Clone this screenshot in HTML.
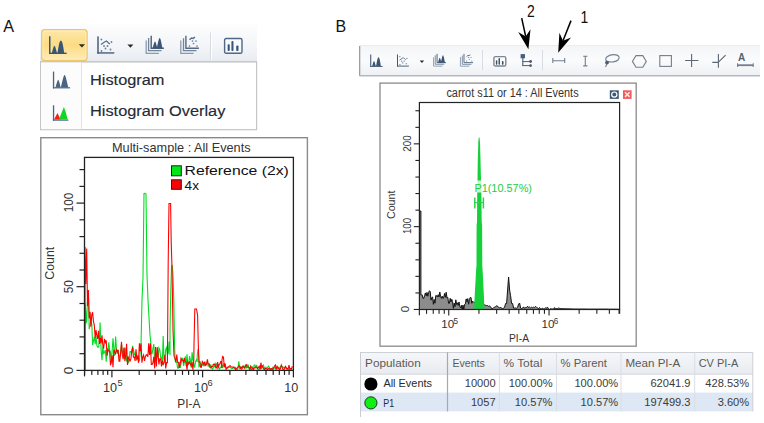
<!DOCTYPE html><html><head><meta charset="utf-8"><style>html,body{margin:0;padding:0;background:#fff;width:764px;height:423px;overflow:hidden}svg{display:block}</style></head><body>
<svg width="764" height="423" viewBox="0 0 764 423" font-family='"Liberation Sans", sans-serif'>
<defs>
<linearGradient id="tbA" x1="0" y1="0" x2="0" y2="1"><stop offset="0" stop-color="#fdfdfe"/><stop offset="0.6" stop-color="#f3f5f8"/><stop offset="1" stop-color="#e7ebf0"/></linearGradient>
<linearGradient id="tbB" x1="0" y1="0" x2="0" y2="1"><stop offset="0" stop-color="#f3f5f8"/><stop offset="0.5" stop-color="#fafbfc"/><stop offset="1" stop-color="#eef0f4"/></linearGradient>
<linearGradient id="hl" x1="0" y1="0" x2="0" y2="1"><stop offset="0" stop-color="#fde7aa"/><stop offset="0.5" stop-color="#fcdb84"/><stop offset="1" stop-color="#feedb8"/></linearGradient>
<linearGradient id="th" x1="0" y1="0" x2="0" y2="1"><stop offset="0" stop-color="#f6f7f9"/><stop offset="1" stop-color="#e8ebf0"/></linearGradient>
<clipPath id="clipA"><rect x="84.5" y="157.4" width="208.9" height="213"/></clipPath>
<clipPath id="clipB"><rect x="419.4" y="102.5" width="200.2" height="206.9"/></clipPath>
</defs>
<text x="3.2" y="31.6" font-size="16.2" fill="#111">A</text>
<text x="335.5" y="31.6" font-size="16" fill="#111">B</text>
<rect x="40" y="24" width="217" height="37.5" fill="url(#tbA)"/>
<rect x="40" y="61" width="217" height="1.2" fill="#c9ccd1"/>
<rect x="41.7" y="29.7" width="45.4" height="30.8" rx="3" fill="url(#hl)" stroke="#eec56c" stroke-width="1.3"/>
<rect x="43" y="31" width="42.8" height="28.2" rx="2" fill="none" stroke="#fff4d0" stroke-width="0.8" opacity="0.8"/>
<rect x="210" y="32.5" width="1" height="27.7" fill="#d6d9de"/><rect x="211" y="32.5" width="1" height="27.7" fill="#fff"/>
<g transform="translate(48.7,36.3) scale(1.0)" fill="#3b5574"><rect x="0.3" y="0" width="1.5" height="17.7"/><rect x="0.3" y="16.4" width="17.7" height="1.3"/><path d="M3.2 16.6 C4.2 13, 5 9.5, 5.7 9.4 C6.5 9.5, 7.3 13, 8.3 16.6Z"/><path d="M8.7 16.6 C9.7 12, 10.5 4.2, 12.2 4.1 C13.9 4.2, 14.7 12, 15.6 16.6Z"/></g>
<path d="M78.8 44.3 h6.2 l-3.1 3.3Z" fill="#2b2b2b"/>
<g transform="translate(97.3,36.4) scale(1.0)" fill="#3b5574"><rect x="0" y="0" width="1.4" height="17.2"/><rect x="0" y="15.9" width="17" height="1.3"/><g fill="#6d7f95"><circle cx="4.1" cy="3.1" r="0.9"/><circle cx="14.2" cy="5.6" r="0.9"/><circle cx="6.7" cy="9.6" r="0.9"/><circle cx="10.2" cy="9.6" r="0.9"/><circle cx="8.2" cy="12.1" r="0.9"/><circle cx="13.2" cy="13.1" r="0.9"/><circle cx="4.2" cy="14.6" r="0.9"/></g><path d="M3.7 8.1 L7.2 5.6 L9.2 4.6 L11.2 6.6 L12.7 7.6" stroke="#56708e" stroke-width="1.3" fill="none"/></g>
<path d="M127.4 44.4 h6.0 l-3.0 3.3Z" fill="#2b2b2b"/>
<g transform="translate(145.7,35.4) scale(1.0)"><path d="M0.5 5.2 V17.9 H13.2" stroke="#8a9bb0" stroke-width="1.3" fill="none"/><path d="M2.9 2.5 V15.2 H15.8" stroke="#71849b" stroke-width="1.3" fill="none"/><path d="M5.5 0.4 V12.9 H18.2" stroke="#4a5f78" stroke-width="1.4" fill="none"/><path d="M6.8 12.9 C7.8 10, 8.6 6.2, 9.3 6.1 C10 6.2, 10.8 10, 11.4 11.4 C12.2 8, 13 2.6, 14 2.5 C15 2.6, 15.8 8, 16.8 12.9Z" fill="#3b5574"/></g>
<g transform="translate(180.2,35.4) scale(1.0)"><path d="M0.6 5 V18 H13.4" stroke="#8a9bb0" stroke-width="1.3" fill="none"/><path d="M3.3 2.8 V15.3 H16.3" stroke="#71849b" stroke-width="1.3" fill="none"/><path d="M5.7 0.4 V12.9 H18.7" stroke="#56697f" stroke-width="1.4" fill="none"/><g fill="#6d7f95"><circle cx="12.3" cy="5.6" r="0.85"/><circle cx="15.8" cy="5.6" r="0.85"/><circle cx="13.3" cy="8.1" r="0.85"/><circle cx="9.3" cy="10.6" r="0.85"/><circle cx="16.8" cy="10.6" r="0.85"/></g><path d="M9.3 4.4 L11.3 2.6 L13 3 L14.8 1.6" stroke="#56708e" stroke-width="1.4" fill="none"/></g>
<g transform="translate(223.9,37.8)"><rect x="0.7" y="0.7" width="17.400000000000002" height="14.799999999999999" rx="1.6" fill="#fff" fill-opacity="0.4" stroke="#4f6886" stroke-width="1.4"/><g fill="#3b5574"><rect x="3.7600000000000002" y="6.399" width="2.068" height="6.803999999999999" rx="0.8272"/><rect x="7.5200000000000005" y="3.3047999999999997" width="2.068" height="9.882" rx="0.8272"/><rect x="12.314000000000002" y="7.776" width="2.2748000000000004" height="5.4270000000000005" rx="0.8272"/></g></g>
<rect x="40.6" y="62" width="216" height="67.7" fill="#fff" stroke="#c6c6c8" stroke-width="1.2"/>
<rect x="41.2" y="62.6" width="40" height="66.5" fill="#fcfcfc"/>
<rect x="81" y="62.6" width="1" height="66.5" fill="#e3e4e6"/>
<g transform="translate(52.9,71.6)" fill="#4a6484"><rect x="0" y="0" width="1.3" height="16.8"/><rect x="0" y="15.6" width="17.2" height="1.2"/><path d="M2.6 15.8 C3.8 12, 4.6 8.3, 5.3 8.2 C6 8.3, 6.8 12, 7.8 15.8Z"/><path d="M8.0 15.8 C9.2 11, 10.6 3.5, 11.7 3.4 C12.8 3.5, 14.2 11, 15.4 15.8Z"/></g>
<g transform="translate(52.9,105.3)"><rect x="0" y="0" width="1.3" height="15.4" fill="#4a6484"/><rect x="0" y="14.2" width="15.5" height="1.2" fill="#4a6484"/><path d="M1.2 14.2 L4.6 7.8 L7.6 14.2Z" fill="#ff1a1a"/><path d="M6 14.2 L9.3 6 L11 1.8 L12.6 6 L14.8 14.2Z" fill="#12d624"/></g>
<text x="90" y="84.9" font-size="15.2" fill="#262b36" stroke="#262b36" stroke-width="0.15" textLength="74.5" lengthAdjust="spacingAndGlyphs">Histogram</text>
<text x="90" y="116.4" font-size="15.2" fill="#262b36" stroke="#262b36" stroke-width="0.15" textLength="135.3" lengthAdjust="spacingAndGlyphs">Histogram Overlay</text>
<rect x="40.8" y="137.7" width="266.6" height="277" fill="#fff" stroke="#8a8a8a" stroke-width="1.4"/>
<text x="112" y="151.8" font-size="12.2" fill="#333" textLength="138.6" lengthAdjust="spacingAndGlyphs">Multi-sample : All Events</text>
<g clip-path="url(#clipA)" fill="none" stroke-width="1.1" stroke-linejoin="miter">
<polyline points="85.0,370.4 85.0,303.0 85.8,312.0 85.8,323.6 86.7,321.1 87.5,299.3 88.4,293.0 89.2,329.2 90.1,324.9 90.9,320.6 91.8,324.1 92.6,345.1 93.5,340.9 94.3,336.8 95.2,344.3 96.0,336.3 96.9,345.6 97.7,347.2 98.6,347.0 99.4,340.0 100.1,322.5 100.8,342.0 101.1,350.5 102.0,360.1 102.8,346.5 103.7,354.1 104.5,352.1 105.4,350.1 106.2,361.7 107.1,348.1 107.9,352.0 108.8,342.3 109.6,350.0 110.5,351.9 111.3,363.5 112.2,350.0 113.0,338.4 113.9,350.0 114.7,355.8 115.6,336.5 116.4,348.0 117.3,353.8 118.1,350.0 119.0,355.8 119.8,357.7 120.7,353.8 121.5,344.1 122.4,353.8 123.2,351.8 124.1,347.9 124.9,359.5 125.8,347.9 126.6,361.4 127.5,357.5 128.3,363.2 129.2,359.4 130.0,351.6 130.9,351.6 131.7,353.5 132.6,345.8 133.4,349.7 134.3,353.5 135.1,355.5 136.0,357.4 136.8,359.3 137.7,355.5 138.5,359.3 139.4,361.3 140.2,351.6 141.0,345.0 142.0,300.0 143.0,278.0 144.0,193.5 145.0,193.3 146.0,194.0 147.0,275.0 148.0,300.0 149.0,318.0 150.0,335.0 151.0,345.0 151.3,353.8 152.1,353.8 153.0,348.0 153.8,344.1 154.7,363.4 155.5,357.6 156.4,361.4 157.2,353.6 158.1,357.5 158.9,347.8 159.8,349.7 160.6,357.4 161.5,357.3 162.3,365.0 163.2,336.0 164.0,359.2 164.9,361.1 165.7,349.4 166.6,347.5 167.4,355.1 168.3,353.2 169.1,341.5 170.0,355.0 170.0,330.0 170.8,290.0 171.5,268.0 172.3,265.0 173.0,275.0 173.8,300.0 174.5,342.0 175.1,360.4 175.9,362.3 176.8,362.3 177.6,368.1 178.5,368.0 179.3,362.2 180.2,368.0 181.0,364.1 181.9,358.3 182.7,358.3 183.6,366.0 184.4,362.1 185.3,356.3 186.1,365.9 187.0,354.3 187.8,364.0 188.7,363.9 189.5,356.2 190.4,360.0 191.2,367.7 192.1,352.3 192.9,360.0 193.8,363.8 194.6,367.7 195.5,361.8 196.3,359.8 197.2,361.7 197.2,356.0 198.0,349.0 198.8,357.0 198.9,367.4 199.7,365.4 200.6,362.9 201.4,366.4 202.3,364.1 203.1,365.3 204.0,361.9 204.8,365.4 205.7,365.4 206.5,364.3 207.4,362.0 208.2,366.6 209.1,363.2 209.9,367.8 210.8,364.4 211.6,367.9 212.5,369.0 213.3,367.9 214.2,364.5 215.0,366.8 215.9,363.3 216.7,364.5 217.6,368.0 218.4,365.7 219.3,369.2 220.1,368.1 221.0,367.0 221.8,364.7 222.7,368.2 223.5,363.5 224.4,367.0 225.2,367.1 226.1,368.2 226.9,368.3 227.8,368.3 228.6,367.1 229.5,367.2 230.3,367.2 231.2,368.3 232.0,368.4 232.9,368.4 233.7,367.2 234.6,367.2 235.4,367.2 236.3,369.5 237.1,369.5 238.0,368.4 238.8,361.4 239.7,368.4 240.5,367.2 241.4,369.6 242.2,367.2 243.1,366.1 243.9,367.3 244.8,366.1 245.6,364.9 246.5,368.4 247.3,364.9 248.2,365.0 249.0,368.4 249.9,369.6 250.7,368.4 251.6,369.6 252.4,367.3 253.3,369.6 254.1,365.0 255.0,365.0 255.8,368.5 256.7,365.0 257.5,368.5 258.4,369.6 259.2,368.5 260.1,367.3 260.9,368.5 261.8,368.5 262.6,366.2 263.5,365.0 264.3,368.5 265.2,367.4 266.0,369.7 266.9,367.4 267.7,367.4 268.6,366.2 269.4,367.4 270.3,369.7 271.1,369.7 272.0,368.5 272.8,367.4 273.7,368.6 274.5,367.4 275.4,368.6 276.2,367.4 277.1,368.6 277.9,368.6 278.8,367.4 279.6,369.7 280.5,366.3 281.3,366.3 282.2,366.3 283.0,367.4 283.9,367.4 284.7,368.6 285.6,367.5 286.4,367.5 287.3,369.8 288.1,369.8 289.0,368.6 289.8,369.8 290.7,368.6 291.5,369.8 292.4,368.6" stroke="#00dd22"/>
<polyline points="85.0,370.4 85.0,247.0 85.8,284.0 85.8,283.7 86.7,248.5 87.5,306.1 88.4,290.1 89.2,318.3 90.1,311.8 90.9,326.7 91.8,314.6 92.6,312.3 93.5,321.6 94.3,325.0 95.2,338.2 96.0,330.1 96.9,335.5 97.7,339.0 98.6,330.9 99.4,344.0 100.3,337.9 101.1,343.4 102.0,335.4 102.8,344.8 103.7,348.5 104.5,338.8 105.4,342.5 106.2,340.4 107.1,355.8 107.9,350.0 108.8,349.9 109.6,351.8 110.5,365.3 111.3,361.4 112.2,355.6 113.0,367.2 113.9,349.8 114.7,351.7 115.6,353.6 116.4,349.7 117.3,351.6 118.1,349.7 119.0,361.3 119.8,361.3 120.7,351.6 121.5,341.9 122.4,355.4 123.2,359.2 124.1,347.6 124.9,361.1 125.8,355.3 126.6,343.7 127.5,364.9 128.3,357.2 129.2,359.1 130.0,361.0 130.9,359.0 131.7,351.3 132.6,347.4 133.4,357.1 134.3,357.0 135.1,360.9 136.0,349.3 136.8,358.9 137.7,357.0 138.5,362.8 139.4,343.4 140.2,351.2 141.1,343.4 141.9,362.7 142.8,356.9 143.6,355.0 144.5,360.8 145.3,356.9 146.2,354.9 147.0,354.9 147.9,356.8 148.7,343.3 149.6,354.9 150.4,343.3 151.3,364.5 152.1,364.5 153.0,362.6 153.8,356.8 154.7,368.4 155.5,347.1 156.4,366.5 157.2,347.1 158.1,354.9 158.9,364.5 159.8,358.7 160.6,358.7 161.5,366.5 162.3,360.7 163.2,364.5 164.0,362.6 164.9,354.9 165.7,368.4 166.6,362.6 167.4,362.6 167.5,352.0 168.2,262.0 169.0,203.5 170.6,203.5 171.2,241.0 172.0,268.0 173.0,330.0 174.0,356.0 174.2,356.5 175.1,358.4 175.9,362.3 176.8,354.5 177.6,362.2 178.5,362.2 179.3,368.0 180.2,364.1 181.0,358.3 181.9,360.2 182.7,360.1 183.6,362.0 184.4,358.2 185.3,362.0 186.1,362.0 187.0,369.8 187.8,362.0 188.7,363.9 189.5,362.0 190.4,363.9 191.2,365.9 192.1,362.0 192.9,369.7 193.8,360.0 194.0,345.0 194.8,309.0 196.5,309.0 197.6,315.0 198.3,345.0 199.0,362.0 199.7,361.7 200.6,367.3 201.4,367.3 202.3,361.6 203.1,362.8 204.0,365.1 204.8,361.7 205.7,365.2 206.5,364.0 207.4,359.4 208.2,364.1 209.1,364.2 209.9,366.5 210.8,367.7 211.6,366.6 212.5,366.6 213.3,364.3 214.2,364.4 215.0,364.4 215.9,367.9 216.7,367.9 217.6,362.1 218.4,366.8 219.3,364.5 220.1,363.3 221.0,361.0 221.8,368.0 222.0,360.0 222.6,356.4 223.4,357.0 224.0,363.0 224.4,366.9 225.2,363.5 226.1,369.3 226.9,368.1 227.8,367.0 228.6,367.0 229.5,365.9 230.3,365.9 231.2,367.0 232.0,367.0 232.9,367.1 233.7,367.1 234.6,368.2 235.4,369.4 236.3,368.3 237.1,368.3 238.0,367.1 238.8,366.0 239.7,366.0 240.5,368.3 241.4,367.1 242.2,368.3 243.1,366.0 243.9,367.2 244.8,368.3 245.6,366.0 246.5,364.9 247.3,367.2 248.2,367.2 249.0,367.2 249.9,369.6 250.7,366.1 251.6,367.3 252.4,368.4 253.3,369.6 254.1,368.4 255.0,367.3 255.8,367.3 256.7,367.3 257.5,368.5 258.4,367.3 259.2,366.2 260.1,369.7 260.9,362.7 261.8,367.3 262.6,366.2 263.5,368.5 264.3,369.7 265.2,368.5 266.0,368.5 266.9,368.5 267.7,369.7 268.6,368.5 269.4,368.5 270.3,369.7 271.1,368.5 272.0,368.6 272.8,369.7 273.7,367.4 274.5,366.2 275.4,365.1 276.2,369.7 277.1,366.3 277.9,367.4 278.8,368.6 279.6,369.7 280.5,368.6 281.3,365.1 282.2,367.4 283.0,369.8 283.9,369.8 284.7,367.5 285.6,366.3 286.4,368.6 287.3,368.6 288.1,368.6 289.0,365.2 289.8,368.6 290.7,368.6 291.5,368.6 292.4,366.3" stroke="#ff0000"/>
</g>
<rect x="84.5" y="157.4" width="208.89999999999998" height="212.99999999999997" fill="none" stroke="#222" stroke-width="1.3"/>
<g fill="#222"><rect x="76.5" y="369.8" width="8" height="1.2"/><rect x="79.5" y="353.1" width="5" height="1.2"/><rect x="79.5" y="336.3" width="5" height="1.2"/><rect x="79.5" y="319.6" width="5" height="1.2"/><rect x="79.5" y="302.9" width="5" height="1.2"/><rect x="76.5" y="286.1" width="8" height="1.2"/><rect x="79.5" y="269.4" width="5" height="1.2"/><rect x="79.5" y="252.7" width="5" height="1.2"/><rect x="79.5" y="236.0" width="5" height="1.2"/><rect x="79.5" y="219.2" width="5" height="1.2"/><rect x="76.5" y="202.5" width="8" height="1.2"/><rect x="79.5" y="185.8" width="5" height="1.2"/><rect x="79.5" y="169.0" width="5" height="1.2"/><rect x="84.0" y="370.4" width="1.2" height="4.5"/><rect x="91.2" y="370.4" width="1.2" height="4.5"/><rect x="97.3" y="370.4" width="1.2" height="4.5"/><rect x="102.5" y="370.4" width="1.2" height="4.5"/><rect x="107.1" y="370.4" width="1.2" height="4.5"/><rect x="111.3" y="370.4" width="1.2" height="7"/><rect x="138.6" y="370.4" width="1.2" height="4.5"/><rect x="154.6" y="370.4" width="1.2" height="4.5"/><rect x="165.9" y="370.4" width="1.2" height="4.5"/><rect x="174.7" y="370.4" width="1.2" height="4.5"/><rect x="181.9" y="370.4" width="1.2" height="4.5"/><rect x="188.0" y="370.4" width="1.2" height="4.5"/><rect x="193.2" y="370.4" width="1.2" height="4.5"/><rect x="197.8" y="370.4" width="1.2" height="4.5"/><rect x="202.0" y="370.4" width="1.2" height="7"/><rect x="229.3" y="370.4" width="1.2" height="4.5"/><rect x="245.3" y="370.4" width="1.2" height="4.5"/><rect x="256.6" y="370.4" width="1.2" height="4.5"/><rect x="265.4" y="370.4" width="1.2" height="4.5"/><rect x="272.6" y="370.4" width="1.2" height="4.5"/><rect x="278.7" y="370.4" width="1.2" height="4.5"/><rect x="283.9" y="370.4" width="1.2" height="4.5"/><rect x="288.5" y="370.4" width="1.2" height="4.5"/><rect x="292.8" y="370.4" width="1.2" height="7"/><rect x="83.9" y="370.4" width="1.2" height="6"/></g>
<text transform="translate(72.9,202.4) rotate(-90)" text-anchor="middle" font-size="13.4" fill="#333" textLength="19.6" lengthAdjust="spacingAndGlyphs">100</text>
<text transform="translate(72.9,286.7) rotate(-90)" text-anchor="middle" font-size="13.4" fill="#333" textLength="13.2" lengthAdjust="spacingAndGlyphs">50</text>
<text transform="translate(72.9,370.6) rotate(-90)" text-anchor="middle" font-size="13.4" fill="#333">0</text>
<text transform="translate(54.4,263.3) rotate(-90)" text-anchor="middle" font-size="12.0" fill="#333" textLength="33" lengthAdjust="spacingAndGlyphs">Count</text>
<text x="103.0" y="392.2" font-size="12.6" fill="#333">10</text><text x="117.4" y="386.4" font-size="9.2" fill="#333">5</text>
<text x="193.9" y="392.2" font-size="12.6" fill="#333">10</text><text x="207.6" y="386.4" font-size="9.2" fill="#333">6</text>
<text x="284.3" y="392.2" font-size="12.6" fill="#333">10</text>
<text x="177.3" y="407.9" font-size="12.8" fill="#333" textLength="23" lengthAdjust="spacingAndGlyphs">PI-A</text>
<rect x="171.5" y="165.8" width="9.8" height="10" fill="#00e81a" stroke="#222" stroke-width="1"/>
<rect x="171.5" y="179.8" width="9.8" height="9.5" fill="#ff0000" stroke="#222" stroke-width="1"/>
<text x="184.6" y="175.3" font-size="13.6" fill="#111" textLength="104.2" lengthAdjust="spacingAndGlyphs">Reference (2x)</text>
<text x="184.6" y="189.6" font-size="13.6" fill="#111">4x</text>
<rect x="359.5" y="45.3" width="400.5" height="30.2" fill="url(#tbB)"/>
<rect x="359.5" y="45.3" width="400.5" height="0.8" fill="#e6e9ed"/>
<rect x="359" y="46" width="1.3" height="30" fill="#9a9da2"/>
<rect x="359.5" y="75" width="400.5" height="1.5" fill="#b5b9bf"/>
<rect x="482" y="50" width="1" height="20.4" fill="#d9dce0"/>
<rect x="542" y="50" width="1" height="20.4" fill="#d9dce0"/>
<g transform="translate(370,54.5) scale(0.7)" fill="#3b5574"><rect x="0.3" y="0" width="1.5" height="17.7"/><rect x="0.3" y="16.4" width="17.7" height="1.3"/><path d="M3.2 16.6 C4.2 13, 5 9.5, 5.7 9.4 C6.5 9.5, 7.3 13, 8.3 16.6Z"/><path d="M8.7 16.6 C9.7 12, 10.5 4.2, 12.2 4.1 C13.9 4.2, 14.7 12, 15.6 16.6Z"/></g>
<g transform="translate(397,54.5) scale(0.7)" fill="#3b5574"><rect x="0" y="0" width="1.4" height="17.2"/><rect x="0" y="15.9" width="17" height="1.3"/><g fill="#6d7f95"><circle cx="4.1" cy="3.1" r="0.9"/><circle cx="14.2" cy="5.6" r="0.9"/><circle cx="6.7" cy="9.6" r="0.9"/><circle cx="10.2" cy="9.6" r="0.9"/><circle cx="8.2" cy="12.1" r="0.9"/><circle cx="13.2" cy="13.1" r="0.9"/><circle cx="4.2" cy="14.6" r="0.9"/></g><path d="M3.7 8.1 L7.2 5.6 L9.2 4.6 L11.2 6.6 L12.7 7.6" stroke="#56708e" stroke-width="1.3" fill="none"/></g>
<path d="M419.7 60.4 h4.4 l-2.2 2.7Z" fill="#2b2b2b"/>
<g transform="translate(433.2,53.6) scale(0.7)"><path d="M0.5 5.2 V17.9 H13.2" stroke="#8a9bb0" stroke-width="1.3" fill="none"/><path d="M2.9 2.5 V15.2 H15.8" stroke="#71849b" stroke-width="1.3" fill="none"/><path d="M5.5 0.4 V12.9 H18.2" stroke="#4a5f78" stroke-width="1.4" fill="none"/><path d="M6.8 12.9 C7.8 10, 8.6 6.2, 9.3 6.1 C10 6.2, 10.8 10, 11.4 11.4 C12.2 8, 13 2.6, 14 2.5 C15 2.6, 15.8 8, 16.8 12.9Z" fill="#3b5574"/></g>
<g transform="translate(460,53.6) scale(0.7)"><path d="M0.6 5 V18 H13.4" stroke="#8a9bb0" stroke-width="1.3" fill="none"/><path d="M3.3 2.8 V15.3 H16.3" stroke="#71849b" stroke-width="1.3" fill="none"/><path d="M5.7 0.4 V12.9 H18.7" stroke="#56697f" stroke-width="1.4" fill="none"/><g fill="#6d7f95"><circle cx="12.3" cy="5.6" r="0.85"/><circle cx="15.8" cy="5.6" r="0.85"/><circle cx="13.3" cy="8.1" r="0.85"/><circle cx="9.3" cy="10.6" r="0.85"/><circle cx="16.8" cy="10.6" r="0.85"/></g><path d="M9.3 4.4 L11.3 2.6 L13 3 L14.8 1.6" stroke="#56708e" stroke-width="1.4" fill="none"/></g>
<g transform="translate(493.2,55.9)"><rect x="0.7" y="0.7" width="11.9" height="9.4" rx="1.6" fill="#fff" fill-opacity="0.4" stroke="#7a8797" stroke-width="1.4"/><g fill="#3f4f63"><rect x="2.66" y="4.266000000000001" width="1.463" height="4.5360000000000005" rx="0.5852"/><rect x="5.32" y="2.2032" width="1.463" height="6.588" rx="0.5852"/><rect x="8.711500000000001" y="5.184" width="1.6093000000000002" height="3.6180000000000003" rx="0.5852"/></g></g>
<g fill="#5d6e83"><rect x="520.6" y="54.1" width="4.4" height="4.2" fill="#45607f"/><rect x="522.2" y="58" width="1.2" height="7.8"/><rect x="522.2" y="61" width="8" height="1.1"/><rect x="522.2" y="65" width="8" height="1.1"/><circle cx="530.6" cy="61.5" r="1.4" fill="#4a5a6c"/><circle cx="530.6" cy="65.6" r="1.4" fill="#4a5a6c"/></g>
<g stroke="#737f8e" stroke-width="1.1" fill="none">
<path d="M552.8 58.1 V63.1 M552.8 60.7 H564.7 M564.7 58.1 V63.1"/>
<path d="M583.2 56.3 H587.4 M585.3 56.3 V65.9 M583.2 65.9 H587.4"/>
<path d="M607 61.5 C603 58 609 54.5 614 54.6 C619 54.7 620.5 57.5 618 60 C616 62 611 62.5 608 61.5 C606.5 63 607 65 605.5 67"/>
<path d="M636 55.6 H642.8 L646.3 61.4 L642.8 67.2 H636 L632.4 61.4Z"/>
<rect x="659.8" y="55.6" width="11.6" height="10.8"/>
<path d="M691.6 54.1 V67 M685.1 60.5 H698.4" stroke="#5d6775"/>
<path d="M718.4 54.1 V67.8 M712.3 62.4 H718.4 M718.4 62.2 L725.6 55.1" stroke="#5d6775"/>
<path d="M737.6 63.2 V67.1 M753.2 63.2 V67.1"/><path d="M737.6 65.2 H753.2" stroke-width="1.8"/>
</g>
<text x="737.9" y="60.6" font-size="10" font-weight="bold" fill="#566272">A</text>
<g transform="translate(607.0,62.6)" fill="#4e5d6e"><circle r="1.9"/></g>
<line x1="521.7" y1="18.2" x2="525.7" y2="36.5" stroke="#000" stroke-width="1.5"/><path d="M528.4,49.2 L518.2,32.0 L525.7,36.5 L530.5,29.3Z" fill="#000"/>
<line x1="571" y1="20.6" x2="563.0" y2="40.7" stroke="#000" stroke-width="1.5"/><path d="M558.2,52.8 L559.4,32.8 L563.0,40.7 L571.1,37.5Z" fill="#000"/>
<text transform="translate(527,16.8) scale(0.92,1.05)" font-size="15.2" fill="#111">2</text>
<text transform="translate(580.6,23.1) scale(0.92,1.05)" font-size="15.2" fill="#111">1</text>
<rect x="380" y="83.1" width="256.2" height="263.1" fill="#fff" stroke="#8a8a8a" stroke-width="1.3"/>
<text x="446.4" y="97.4" font-size="12" fill="#333" textLength="132.2" lengthAdjust="spacingAndGlyphs">carrot s11 or 14 : All Events</text>
<rect x="609.8" y="90.3" width="9" height="8.6" fill="#3e5a76"/><circle cx="614.3" cy="94.6" r="2.6" fill="none" stroke="#fff" stroke-width="1.2"/>
<rect x="623" y="90.3" width="8.6" height="8.6" fill="#f05c5c"/><path d="M625 92.3 L629.6 96.9 M629.6 92.3 L625 96.9" stroke="#ffe8e0" stroke-width="1.5"/>
<g clip-path="url(#clipB)">
<polygon points="419.9,309.5 419.9,211.0 420.9,211.0 420.9,295.0 421.4,294.9 422.2,294.9 423.0,298.6 423.8,298.1 424.6,295.5 425.4,292.9 426.2,295.8 427.0,292.4 427.8,296.2 428.6,292.7 429.4,290.8 430.2,291.4 431.0,300.1 431.8,297.5 432.6,297.0 433.4,304.3 434.2,299.5 435.0,303.2 435.8,295.5 436.6,295.7 437.4,296.9 438.2,294.7 439.0,297.0 439.8,292.0 440.6,296.5 441.4,298.3 442.2,296.1 443.0,298.5 443.8,297.1 444.6,293.4 445.4,297.3 446.2,292.2 447.0,298.0 447.8,297.4 448.6,303.3 449.4,303.3 450.2,298.3 451.0,301.8 451.8,299.3 452.6,301.7 453.4,308.4 454.2,303.1 455.0,306.6 455.8,299.8 456.6,304.5 457.4,302.8 458.2,305.4 459.0,302.0 459.8,306.3 460.6,308.0 461.4,305.3 462.2,309.5 463.0,305.0 463.8,309.4 464.6,304.4 465.4,303.9 466.2,298.9 467.0,301.8 467.8,298.6 468.6,304.2 469.4,299.7 470.2,297.5 471.0,297.5 471.8,303.3 472.6,301.2 473.6,302.2 474.6,302.4 475.6,302.7 476.6,302.9 477.6,303.2 478.6,303.4 479.6,303.7 480.6,303.9 481.6,304.2 482.6,304.4 483.6,304.7 484.6,304.9 485.6,305.3 486.6,305.5 487.6,305.6 488.6,306.3 489.6,306.0 490.6,306.8 491.6,308.6 492.6,308.6 493.6,307.6 494.6,307.2 495.6,306.6 496.6,305.8 497.6,306.1 498.6,307.5 499.6,308.0 500.6,307.0 501.6,308.4 502.6,308.6 503.6,308.3 504.6,307.1 505.6,303.5 506.6,303.5 507.6,290.0 508.6,277.0 509.6,290.0 510.6,295.8 511.6,303.5 512.6,303.5 513.6,308.0 514.6,308.1 515.6,308.0 516.6,308.2 517.6,307.3 518.6,304.1 519.6,303.0 520.6,308.0 521.6,308.5 522.6,308.1 523.6,306.9 524.6,308.3 525.6,307.5 526.6,307.5 527.6,306.2 528.6,307.6 529.6,307.0 530.6,307.9 531.6,307.2 532.6,307.8 533.6,307.2 534.6,307.4 535.6,306.4 536.6,307.4 537.6,308.0 538.6,308.5 539.6,307.6 540.6,308.9 541.6,308.8 542.6,308.3 543.6,308.9 544.6,308.7 545.6,307.8 546.6,308.0 547.6,307.3 548.6,309.1 549.6,309.5 550.6,308.5 551.6,309.0 552.6,309.0 553.6,309.0 554.6,307.6 555.6,309.0 556.6,308.5 557.6,308.6 558.6,308.0 559.6,308.4 560.6,308.5 561.6,308.6 562.6,308.6 563.6,308.6 564.6,308.7 565.6,308.7 566.6,308.7 567.6,308.8 568.6,308.8 569.6,308.8 570.6,308.9 571.6,308.9 572.6,308.9 573.6,309.0 574.6,309.0 575.6,309.0 576.6,309.0 577.6,309.0 578.6,309.0 579.6,309.0 580.6,309.0 581.6,309.0 582.6,309.0 583.6,309.0 584.6,309.0 585.6,309.0 586.6,309.1 587.6,309.1 588.6,309.1 589.6,309.1 590.6,309.1 591.6,309.1 592.6,309.1 593.6,309.1 594.6,309.1 595.6,309.1 596.6,309.1 597.6,309.1 598.6,309.1 599.6,309.1 600.6,309.1 601.6,309.1 602.6,309.1 603.6,309.1 604.6,309.1 605.6,309.1 606.6,309.1 607.6,309.1 608.6,309.2 609.6,309.2 610.6,309.2 611.6,309.2 612.6,309.2 613.6,309.2 614.6,309.2 615.6,309.2 616.6,309.2 617.6,309.2 618.6,309.2 619.6,309.5" fill="#8c8c8c" stroke="none"/>
<polyline points="419.9,211.0 420.9,211.0 420.9,295.0 421.4,294.9 422.2,294.9 423.0,298.6 423.8,298.1 424.6,295.5 425.4,292.9 426.2,295.8 427.0,292.4 427.8,296.2 428.6,292.7 429.4,290.8 430.2,291.4 431.0,300.1 431.8,297.5 432.6,297.0 433.4,304.3 434.2,299.5 435.0,303.2 435.8,295.5 436.6,295.7 437.4,296.9 438.2,294.7 439.0,297.0 439.8,292.0 440.6,296.5 441.4,298.3 442.2,296.1 443.0,298.5 443.8,297.1 444.6,293.4 445.4,297.3 446.2,292.2 447.0,298.0 447.8,297.4 448.6,303.3 449.4,303.3 450.2,298.3 451.0,301.8 451.8,299.3 452.6,301.7 453.4,308.4 454.2,303.1 455.0,306.6 455.8,299.8 456.6,304.5 457.4,302.8 458.2,305.4 459.0,302.0 459.8,306.3 460.6,308.0 461.4,305.3 462.2,309.5 463.0,305.0 463.8,309.4 464.6,304.4 465.4,303.9 466.2,298.9 467.0,301.8 467.8,298.6 468.6,304.2 469.4,299.7 470.2,297.5 471.0,297.5 471.8,303.3 472.6,301.2 473.6,302.2 474.6,302.4 475.6,302.7 476.6,302.9 477.6,303.2 478.6,303.4 479.6,303.7 480.6,303.9 481.6,304.2 482.6,304.4 483.6,304.7 484.6,304.9 485.6,305.3 486.6,305.5 487.6,305.6 488.6,306.3 489.6,306.0 490.6,306.8 491.6,308.6 492.6,308.6 493.6,307.6 494.6,307.2 495.6,306.6 496.6,305.8 497.6,306.1 498.6,307.5 499.6,308.0 500.6,307.0 501.6,308.4 502.6,308.6 503.6,308.3 504.6,307.1 505.6,303.5 506.6,303.5 507.6,290.0 508.6,277.0 509.6,290.0 510.6,295.8 511.6,303.5 512.6,303.5 513.6,308.0 514.6,308.1 515.6,308.0 516.6,308.2 517.6,307.3 518.6,304.1 519.6,303.0 520.6,308.0 521.6,308.5 522.6,308.1 523.6,306.9 524.6,308.3 525.6,307.5 526.6,307.5 527.6,306.2 528.6,307.6 529.6,307.0 530.6,307.9 531.6,307.2 532.6,307.8 533.6,307.2 534.6,307.4 535.6,306.4 536.6,307.4 537.6,308.0 538.6,308.5 539.6,307.6 540.6,308.9 541.6,308.8 542.6,308.3 543.6,308.9 544.6,308.7 545.6,307.8 546.6,308.0 547.6,307.3 548.6,309.1 549.6,309.5 550.6,308.5 551.6,309.0 552.6,309.0 553.6,309.0 554.6,307.6 555.6,309.0 556.6,308.5 557.6,308.6 558.6,308.0 559.6,308.4 560.6,308.5 561.6,308.6 562.6,308.6 563.6,308.6 564.6,308.7 565.6,308.7 566.6,308.7 567.6,308.8 568.6,308.8 569.6,308.8 570.6,308.9 571.6,308.9 572.6,308.9 573.6,309.0 574.6,309.0 575.6,309.0 576.6,309.0 577.6,309.0 578.6,309.0 579.6,309.0 580.6,309.0 581.6,309.0 582.6,309.0 583.6,309.0 584.6,309.0 585.6,309.0 586.6,309.1 587.6,309.1 588.6,309.1 589.6,309.1 590.6,309.1 591.6,309.1 592.6,309.1 593.6,309.1 594.6,309.1 595.6,309.1 596.6,309.1 597.6,309.1 598.6,309.1 599.6,309.1 600.6,309.1 601.6,309.1 602.6,309.1 603.6,309.1 604.6,309.1 605.6,309.1 606.6,309.1 607.6,309.1 608.6,309.2 609.6,309.2 610.6,309.2 611.6,309.2 612.6,309.2 613.6,309.2 614.6,309.2 615.6,309.2 616.6,309.2 617.6,309.2 618.6,309.2" fill="none" stroke="#111" stroke-width="1"/>
<polygon points="474.2,309.4 474.5,300.0 475.0,290.0 475.6,280.0 476.0,271.0 476.5,265.8 476.6,225.0 477.0,222.0 477.2,195.0 477.5,180.0 477.8,160.0 478.3,142.0 478.7,137.5 479.5,137.5 480.0,142.0 480.5,160.0 481.0,180.0 481.4,195.0 481.7,222.0 482.1,225.0 482.3,265.8 482.9,275.0 483.6,290.0 484.1,300.0 484.4,309.4" fill="#16d03a"/>
</g>
<rect x="474.5" y="180.5" width="58" height="12" fill="#fff" fill-opacity="0.75"/>
<text x="474.4" y="191.6" font-size="11.6" fill="#22cc44" textLength="57.6" lengthAdjust="spacingAndGlyphs">P1(10.57%)</text>
<path d="M474.8 197.4 V208.4 M483.4 197.4 V208.4" stroke="#2ed24e" stroke-width="1.5" fill="none"/><path d="M474.8 202.6 H483.4" stroke="#2ed24e" stroke-width="1.1"/>
<rect x="419.4" y="102.5" width="200.20000000000005" height="207.0" fill="none" stroke="#222" stroke-width="1.2"/>
<g fill="#222"><rect x="413.79999999999995" y="308.9" width="5.6" height="1.1"/><rect x="415.4" y="292.4" width="4" height="1.1"/><rect x="415.4" y="275.8" width="4" height="1.1"/><rect x="415.4" y="259.3" width="4" height="1.1"/><rect x="415.4" y="242.7" width="4" height="1.1"/><rect x="413.79999999999995" y="226.1" width="5.6" height="1.1"/><rect x="415.4" y="209.6" width="4" height="1.1"/><rect x="415.4" y="193.0" width="4" height="1.1"/><rect x="415.4" y="176.5" width="4" height="1.1"/><rect x="415.4" y="159.9" width="4" height="1.1"/><rect x="413.79999999999995" y="143.3" width="5.6" height="1.1"/><rect x="415.4" y="126.8" width="4" height="1.1"/><rect x="415.4" y="110.2" width="4" height="1.1"/><rect x="426.0" y="309.5" width="1.1" height="4.3"/><rect x="432.7" y="309.5" width="1.1" height="4.3"/><rect x="438.5" y="309.5" width="1.1" height="4.3"/><rect x="443.7" y="309.5" width="1.1" height="4.3"/><rect x="448.2" y="309.5" width="1.1" height="6"/><rect x="478.4" y="309.5" width="1.1" height="4.3"/><rect x="496.1" y="309.5" width="1.1" height="4.3"/><rect x="508.6" y="309.5" width="1.1" height="4.3"/><rect x="518.3" y="309.5" width="1.1" height="4.3"/><rect x="526.2" y="309.5" width="1.1" height="4.3"/><rect x="532.9" y="309.5" width="1.1" height="4.3"/><rect x="538.7" y="309.5" width="1.1" height="4.3"/><rect x="543.9" y="309.5" width="1.1" height="4.3"/><rect x="548.5" y="309.5" width="1.1" height="6"/><rect x="578.6" y="309.5" width="1.1" height="4.3"/><rect x="596.3" y="309.5" width="1.1" height="4.3"/><rect x="608.8" y="309.5" width="1.1" height="4.3"/><rect x="618.5" y="309.5" width="1.1" height="4.3"/><rect x="619.1" y="309.5" width="1.1" height="4.3"/><rect x="418.8" y="309.5" width="1.1" height="5.8"/></g>
<text transform="translate(410.6,143.6) rotate(-90)" text-anchor="middle" font-size="11.5" fill="#333" textLength="16.5" lengthAdjust="spacingAndGlyphs">200</text>
<text transform="translate(410.6,226) rotate(-90)" text-anchor="middle" font-size="11.5" fill="#333" textLength="16.1" lengthAdjust="spacingAndGlyphs">100</text>
<text transform="translate(409.2,309.1) rotate(-90)" text-anchor="middle" font-size="11.5" fill="#333">0</text>
<text transform="translate(395.2,204.8) rotate(-90)" text-anchor="middle" font-size="11.5" fill="#333" textLength="28.4" lengthAdjust="spacingAndGlyphs">Count</text>
<text x="441.2" y="328.3" font-size="11.6" fill="#333">10</text><text x="453.4" y="323.7" font-size="8.2" fill="#333">5</text>
<text x="541.6" y="328.4" font-size="11.6" fill="#333">10</text><text x="553.8" y="323.6" font-size="8.2" fill="#333">6</text>
<text x="509" y="342.2" font-size="11.2" fill="#333" textLength="20" lengthAdjust="spacingAndGlyphs">PI-A</text>
<rect x="360.5" y="352.4" width="392.3" height="21.8" fill="url(#th)"/>
<rect x="360.5" y="374.2" width="392.3" height="18.4" fill="#fff"/>
<rect x="360.5" y="392.6" width="392.3" height="18.8" fill="#dde8f4"/>
<rect x="360.5" y="352" width="392.3" height="1" fill="#cdd0d5"/>
<rect x="360.5" y="373.7" width="392.3" height="1" fill="#d3d6db"/>
<rect x="360" y="352" width="1" height="65" fill="#c9ccd0"/>
<rect x="752.3" y="352" width="1" height="59.4" fill="#cdd0d5"/>
<rect x="446.9" y="352.4" width="1.2" height="59" fill="#a5a9b0"/>
<rect x="498.9" y="352.4" width="1" height="59" fill="#dadee4"/>
<rect x="556.0" y="352.4" width="1" height="59" fill="#dadee4"/>
<rect x="620.5" y="352.4" width="1" height="59" fill="#dadee4"/>
<rect x="694.2" y="352.4" width="1" height="59" fill="#dadee4"/>
<text x="365.1" y="367.0" font-size="11.3" fill="#5a5a5a" textLength="55.6" lengthAdjust="spacingAndGlyphs">Population</text>
<text x="452.4" y="367.0" font-size="11.3" fill="#5a5a5a" textLength="32.4" lengthAdjust="spacingAndGlyphs">Events</text>
<text x="503.4" y="367.0" font-size="11.3" fill="#5a5a5a" textLength="39" lengthAdjust="spacingAndGlyphs">% Total</text>
<text x="560.5" y="367.0" font-size="11.3" fill="#5a5a5a" textLength="46.4" lengthAdjust="spacingAndGlyphs">% Parent</text>
<text x="625.4" y="367.0" font-size="11.3" fill="#5a5a5a" textLength="54.8" lengthAdjust="spacingAndGlyphs">Mean PI-A</text>
<text x="698.7" y="367.0" font-size="11.3" fill="#5a5a5a" textLength="39.6" lengthAdjust="spacingAndGlyphs">CV PI-A</text>
<text x="495.6" y="387.1" font-size="11.1" fill="#3a3a3a" text-anchor="end">10000</text>
<text x="552.5" y="387.1" font-size="11.1" fill="#3a3a3a" text-anchor="end">100.00%</text>
<text x="618.2" y="387.1" font-size="11.1" fill="#3a3a3a" text-anchor="end">100.00%</text>
<text x="690.5" y="387.1" font-size="11.1" fill="#3a3a3a" text-anchor="end">62041.9</text>
<text x="749.1" y="387.1" font-size="11.1" fill="#3a3a3a" text-anchor="end">428.53%</text>
<text x="495.6" y="406.3" font-size="11.1" fill="#3a3a3a" text-anchor="end">1057</text>
<text x="552.5" y="406.3" font-size="11.1" fill="#3a3a3a" text-anchor="end">10.57%</text>
<text x="618.2" y="406.3" font-size="11.1" fill="#3a3a3a" text-anchor="end">10.57%</text>
<text x="690.5" y="406.3" font-size="11.1" fill="#3a3a3a" text-anchor="end">197499.3</text>
<text x="749.1" y="406.3" font-size="11.1" fill="#3a3a3a" text-anchor="end">3.60%</text>
<circle cx="370.9" cy="384" r="6.6" fill="#000"/>
<circle cx="370.9" cy="402.9" r="6.1" fill="#11ee11" stroke="#1a3a1a" stroke-width="1"/>
<text x="383.4" y="387.2" font-size="11.1" fill="#2a2a2a" textLength="48.6" lengthAdjust="spacingAndGlyphs">All Events</text>
<text x="383.2" y="406.5" font-size="11.1" fill="#2a2a2a" textLength="10.9" lengthAdjust="spacingAndGlyphs">P1</text>
</svg></body></html>
